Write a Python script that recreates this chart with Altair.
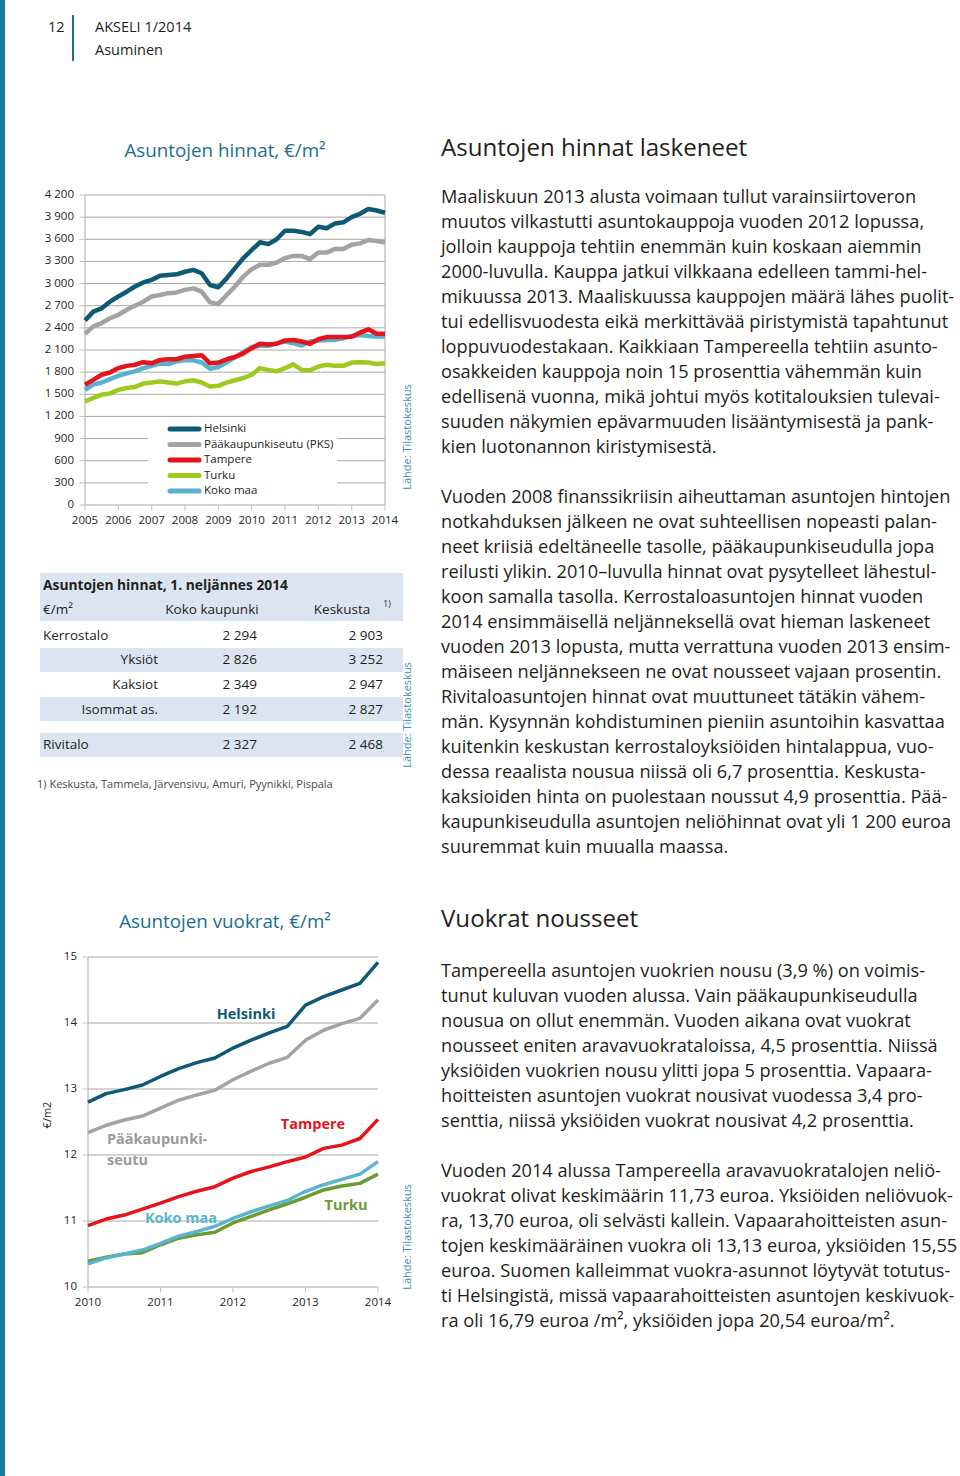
import altair as alt
import pandas as pd

# ---------------------------------------------------------------- data
price_series = ["Helsinki", "Pääkaupunkiseutu (PKS)", "Tampere", "Turku", "Koko maa"]
price_years = [2005, 2006, 2007, 2008, 2009, 2010, 2011, 2012, 2013, 2014]
price_ticks = [0, 300, 600, 900, 1200, 1500, 1800, 2100, 2400, 2700, 3000, 3300, 3600, 3900, 4200]
price_tick_labels = ["0", "300", "600", "900", "1 200", "1 500", "1 800", "2 100", "2 400",
                     "2 700", "3 000", "3 300", "3 600", "3 900", "4 200"]

helsinki_price = [2500, 2620, 2665, 2755, 2825, 2890, 2960, 3015, 3050, 3105, 3115, 3125, 3160,
                  3185, 3140, 2980, 2950, 3070, 3210, 3345, 3455, 3560, 3535, 3600, 3715, 3715,
                  3700, 3670, 3770, 3750, 3815, 3830, 3900, 3945, 4010, 3990, 3960]
pks_price = [2320, 2420, 2465, 2530, 2575, 2645, 2700, 2755, 2825, 2845, 2870, 2880, 2915, 2935,
             2890, 2745, 2725, 2845, 2960, 3095, 3195, 3255, 3255, 3285, 3345, 3375, 3375, 3330,
             3420, 3420, 3470, 3470, 3525, 3545, 3590, 3575, 3555]
tampere_price = [1630, 1695, 1765, 1795, 1855, 1885, 1900, 1935, 1920, 1965, 1975, 1975, 2010,
                 2020, 2030, 1920, 1930, 1975, 2005, 2055, 2125, 2185, 2175, 2185, 2230, 2235,
                 2215, 2185, 2245, 2275, 2275, 2275, 2280, 2335, 2380, 2320, 2320]
turku_price = [1405, 1450, 1495, 1510, 1560, 1585, 1600, 1645, 1660, 1675, 1660, 1645, 1675,
               1690, 1660, 1605, 1615, 1660, 1690, 1720, 1765, 1855, 1830, 1810, 1855, 1905,
               1830, 1825, 1875, 1900, 1885, 1885, 1930, 1935, 1930, 1910, 1920]
koko_price = [1560, 1630, 1660, 1705, 1750, 1785, 1810, 1855, 1885, 1915, 1910, 1945, 1965,
              1960, 1930, 1845, 1870, 1935, 2000, 2070, 2140, 2156, 2156, 2190, 2214, 2192,
              2160, 2214, 2228, 2237, 2237, 2259, 2291, 2304, 2291, 2282, 2282]

rent_series = ["Helsinki", "Pääkaupunkiseutu", "Tampere", "Turku", "Koko maa"]
rent_years = [2010, 2011, 2012, 2013, 2014]
rent_ticks = [10, 11, 12, 13, 14, 15]
helsinki_rent = [12.80, 12.93, 12.99, 13.06, 13.19, 13.31, 13.40, 13.47, 13.62, 13.74, 13.85,
                 13.95, 14.27, 14.40, 14.50, 14.60, 14.92]
pks_rent = [12.34, 12.45, 12.53, 12.59, 12.71, 12.83, 12.91, 12.98, 13.14, 13.27, 13.39, 13.48,
            13.74, 13.89, 13.99, 14.07, 14.35]
tampere_rent = [10.93, 11.03, 11.09, 11.18, 11.27, 11.37, 11.45, 11.52, 11.65, 11.75, 11.82,
                11.90, 11.97, 12.10, 12.15, 12.25, 12.54]
turku_rent = [10.39, 10.45, 10.50, 10.52, 10.64, 10.74, 10.79, 10.83, 10.97, 11.07, 11.17,
              11.26, 11.36, 11.47, 11.53, 11.57, 11.71]
koko_rent = [10.35, 10.44, 10.50, 10.56, 10.66, 10.77, 10.84, 10.92, 11.04, 11.14, 11.23,
             11.31, 11.45, 11.55, 11.63, 11.71, 11.90]

table_rows = ["Kerrostalo", "Yksiöt", "Kaksiot", "Isommat as.", "Rivitalo"]
table_koko = ["2 294", "2 826", "2 349", "2 192", "2 327"]
table_keskusta = ["2 903", "3 252", "2 947", "2 827", "2 468"]

para1 = [
    "Maaliskuun 2013 alusta voimaan tullut varainsiirtoveron",
    "muutos vilkastutti asuntokauppoja vuoden 2012 lopussa,",
    "jolloin kauppoja tehtiin enemmän kuin koskaan aiemmin",
    "2000-luvulla. Kauppa jatkui vilkkaana edelleen tammi-hel-",
    "mikuussa 2013. Maaliskuussa kauppojen määrä lähes puolit-",
    "tui edellisvuodesta eikä merkittävää piristymistä tapahtunut",
    "loppuvuodestakaan. Kaikkiaan Tampereella tehtiin asunto-",
    "osakkeiden kauppoja noin 15 prosenttia vähemmän kuin",
    "edellisenä vuonna, mikä johtui myös kotitalouksien tulevai-",
    "suuden näkymien epävarmuuden lisääntymisestä  ja pank-",
    "kien luotonannon kiristymisestä.",
]
para2 = [
    "Vuoden 2008 finanssikriisin aiheuttaman asuntojen hintojen",
    "notkahduksen jälkeen ne ovat  suhteellisen nopeasti palan-",
    "neet kriisiä edeltäneelle tasolle, pääkaupunkiseudulla jopa",
    "reilusti ylikin. 2010–luvulla hinnat ovat pysytelleet lähestul-",
    "koon samalla tasolla. Kerrostaloasuntojen hinnat vuoden",
    "2014 ensimmäisellä neljänneksellä ovat hieman laskeneet",
    "vuoden 2013 lopusta, mutta verrattuna vuoden 2013 ensim-",
    "mäiseen neljännekseen ne ovat nousseet vajaan prosentin.",
    "Rivitaloasuntojen hinnat ovat muuttuneet tätäkin vähem-",
    "män. Kysynnän kohdistuminen pieniin asuntoihin kasvattaa",
    "kuitenkin keskustan kerrostaloyksiöiden hintalappua, vuo-",
    "dessa reaalista nousua niissä oli 6,7 prosenttia.  Keskusta-",
    "kaksioiden hinta on puolestaan noussut 4,9 prosenttia. Pää-",
    "kaupunkiseudulla asuntojen neliöhinnat ovat yli 1 200 euroa",
    "suuremmat kuin muualla maassa.",
]
para3 = [
    "Tampereella asuntojen vuokrien nousu (3,9 %) on voimis-",
    "tunut kuluvan vuoden alussa. Vain pääkaupunkiseudulla",
    "nousua on ollut enemmän. Vuoden aikana ovat vuokrat",
    "nousseet eniten aravavuokrataloissa, 4,5 prosenttia. Niissä",
    "yksiöiden vuokrien nousu ylitti jopa 5 prosenttia. Vapaara-",
    "hoitteisten asuntojen vuokrat nousivat vuodessa 3,4 pro-",
    "senttia,  niissä yksiöiden vuokrat nousivat 4,2 prosenttia.",
]
para4 = [
    "Vuoden 2014 alussa Tampereella aravavuokratalojen neliö-",
    "vuokrat olivat keskimäärin 11,73 euroa. Yksiöiden neliövuok-",
    "ra, 13,70 euroa, oli selvästi kallein. Vapaarahoitteisten asun-",
    "tojen keskimääräinen vuokra oli 13,13 euroa, yksiöiden 15,55",
    "euroa. Suomen kalleimmat vuokra-asunnot löytyvät totutus-",
    "ti Helsingistä, missä vapaarahoitteisten asuntojen keskivuok-",
    "ra oli 16,79 euroa /m², yksiöiden jopa 20,54 euroa/m².",
]

# ---------------------------------------------------------------- style
FONT = "Open Sans"
INK = "#231f20"
TEAL = "#1b6f8d"
SOURCE = "#3a93a6"
GRID = "#a8a8a8"
BAND = "#dbe5f1"
STRIPE = "#157a9b"
price_colors = ["#0e5a75", "#a3a3a3", "#e5141c", "#9ccb1e", "#58b2cd"]
rent_colors = ["#0e5a75", "#a3a3a3", "#e5141c", "#6b9a35", "#5ab4cf"]
BODY = 18.2
LH = 25

DUMMY = pd.DataFrame({"_": [0]})


def label(text, x, y, size, color=INK, weight="normal", align="left", angle=None,
          baseline="middle", line_height=None):
    props = dict(text=text, font=FONT, fontSize=size, color=color, fontWeight=weight,
                 align=align, baseline=baseline)
    if angle is not None:
        props["angle"] = angle
    if line_height is not None:
        props["lineHeight"] = line_height
    return alt.Chart(DUMMY).mark_text(**props).encode(x=alt.value(x), y=alt.value(y))


def box(x1, x2, y1, y2, color):
    return alt.Chart(DUMMY).mark_rect(color=color).encode(
        x=alt.value(x1), x2=alt.value(x2), y=alt.value(y1), y2=alt.value(y2))


def paragraph(lines, x, y_first):
    return label(lines, x, y_first, BODY, line_height=LH)


# ---------------------------------------------------------------- price chart
q_price = [y + q / 4 for y in range(2005, 2014) for q in range(4)] + [2014.0]
price_values = dict(zip(price_series, [helsinki_price, pks_price, tampere_price,
                                       turku_price, koko_price]))
xs_p = alt.Scale(domain=[2005, 2014], range=[85, 385], nice=False, zero=False)
ys_p = alt.Scale(domain=[0, 4200], range=[505, 195], nice=False, zero=False)
cs_p = alt.Scale(domain=price_series, range=price_colors)

ptick_df = pd.DataFrame({"v": price_ticks, "label": price_tick_labels})
pyear_df = pd.DataFrame({"t": price_years, "label": [str(y) for y in price_years]})
pframe_df = pd.DataFrame({"t": [2005, 2014]})

p_grid = alt.Chart(ptick_df).mark_rule(color=GRID, strokeWidth=1).encode(
    y=alt.Y("v:Q", scale=ys_p, axis=None),
    x=alt.XDatum(2005, scale=xs_p, axis=None), x2=alt.X2Datum(2014))
p_frame = alt.Chart(pframe_df).mark_rule(color=GRID, strokeWidth=1).encode(
    x=alt.X("t:Q", scale=xs_p, axis=None),
    y=alt.YDatum(0, scale=ys_p, axis=None), y2=alt.Y2Datum(4200))
p_ytick = alt.Chart(ptick_df).mark_tick(orient="horizontal", size=5, thickness=1,
                                        color=GRID, xOffset=-3).encode(
    y=alt.Y("v:Q", scale=ys_p, axis=None), x=alt.XDatum(2005, scale=xs_p, axis=None))
p_xtick = alt.Chart(pyear_df).mark_tick(orient="vertical", size=5, thickness=1,
                                        color=GRID, yOffset=3).encode(
    x=alt.X("t:Q", scale=xs_p, axis=None), y=alt.YDatum(0, scale=ys_p, axis=None))
p_ylab = alt.Chart(ptick_df).mark_text(align="right", dx=-11, font=FONT, fontSize=11.5,
                                       color=INK).encode(
    y=alt.Y("v:Q", scale=ys_p, axis=None), x=alt.XDatum(2005, scale=xs_p, axis=None),
    text="label:N")
p_xlab = alt.Chart(pyear_df).mark_text(dy=16, font=FONT, fontSize=11.5, color=INK).encode(
    x=alt.X("t:Q", scale=xs_p, axis=None), y=alt.YDatum(0, scale=ys_p, axis=None),
    text="label:N")

p_lines = []
for s in ["Turku", "Koko maa", "Tampere", "Pääkaupunkiseutu (PKS)", "Helsinki"]:
    df = pd.DataFrame({"t": q_price, "v": price_values[s], "series": s})
    p_lines.append(alt.Chart(df).mark_line(strokeWidth=4.5, strokeJoin="round").encode(
        x=alt.X("t:Q", scale=xs_p, axis=None), y=alt.Y("v:Q", scale=ys_p, axis=None),
        color=alt.Color("series:N", scale=cs_p, legend=None)))

price_chart = alt.layer(p_grid, p_frame, p_ytick, p_xtick, p_ylab, p_xlab, *p_lines)

# legend drawn inside the plot
leg_df = pd.DataFrame({"series": price_series})
leg_y = alt.Scale(type="point", domain=price_series, range=[429, 491], padding=0)
leg_bg = box(148, 337, 418, 501, "white")
leg_sym = alt.Chart(leg_df).mark_rule(strokeWidth=5, strokeCap="round").encode(
    y=alt.Y("series:N", scale=leg_y, axis=None), x=alt.value(170), x2=alt.value(199),
    color=alt.Color("series:N", scale=cs_p, legend=None))
leg_txt = alt.Chart(leg_df).mark_text(align="left", font=FONT, fontSize=11.5,
                                      color=INK).encode(
    y=alt.Y("series:N", scale=leg_y, axis=None), x=alt.value(204), text="series:N")
legend = alt.layer(leg_bg, leg_sym, leg_txt)

# ---------------------------------------------------------------- rent chart
q_rent = [y + q / 4 for y in range(2010, 2014) for q in range(4)] + [2014.0]
rent_values = dict(zip(rent_series, [helsinki_rent, pks_rent, tampere_rent,
                                     turku_rent, koko_rent]))
xs_r = alt.Scale(domain=[2010, 2014], range=[88, 378], nice=False, zero=False)
ys_r = alt.Scale(domain=[10, 15], range=[1287, 957], nice=False, zero=False)
cs_r = alt.Scale(domain=rent_series, range=rent_colors)

rtick_df = pd.DataFrame({"v": rent_ticks, "label": [str(v) for v in rent_ticks]})
ryear_df = pd.DataFrame({"t": rent_years, "label": [str(y) for y in rent_years]})

r_grid = alt.Chart(rtick_df).mark_rule(color=GRID, strokeWidth=1).encode(
    y=alt.Y("v:Q", scale=ys_r, axis=None),
    x=alt.XDatum(2010, scale=xs_r, axis=None), x2=alt.X2Datum(2014))
r_frame = alt.Chart(DUMMY).mark_rule(color=GRID, strokeWidth=1).encode(
    x=alt.XDatum(2010, scale=xs_r, axis=None),
    y=alt.YDatum(10, scale=ys_r, axis=None), y2=alt.Y2Datum(15))
r_ytick = alt.Chart(rtick_df).mark_tick(orient="horizontal", size=5, thickness=1,
                                        color=GRID, xOffset=-3).encode(
    y=alt.Y("v:Q", scale=ys_r, axis=None), x=alt.XDatum(2010, scale=xs_r, axis=None))
r_xtick = alt.Chart(ryear_df).mark_tick(orient="vertical", size=5, thickness=1,
                                        color=GRID, yOffset=3).encode(
    x=alt.X("t:Q", scale=xs_r, axis=None), y=alt.YDatum(10, scale=ys_r, axis=None))
r_ylab = alt.Chart(rtick_df).mark_text(align="right", dx=-11, font=FONT, fontSize=11.5,
                                       color=INK).encode(
    y=alt.Y("v:Q", scale=ys_r, axis=None), x=alt.XDatum(2010, scale=xs_r, axis=None),
    text="label:N")
r_xlab = alt.Chart(ryear_df).mark_text(dy=16, font=FONT, fontSize=11.5, color=INK).encode(
    x=alt.X("t:Q", scale=xs_r, axis=None), y=alt.YDatum(10, scale=ys_r, axis=None),
    text="label:N")

r_lines = []
for s in ["Turku", "Koko maa", "Tampere", "Pääkaupunkiseutu", "Helsinki"]:
    df = pd.DataFrame({"t": q_rent, "v": rent_values[s], "series": s})
    r_lines.append(alt.Chart(df).mark_line(strokeWidth=3.5, strokeJoin="round").encode(
        x=alt.X("t:Q", scale=xs_r, axis=None), y=alt.Y("v:Q", scale=ys_r, axis=None),
        color=alt.Color("series:N", scale=cs_r, legend=None)))

rent_chart = alt.layer(r_grid, r_frame, r_ytick, r_xtick, r_ylab, r_xlab, *r_lines)

rent_labels = [
    label("Helsinki", 246, 1015, 14.5, rent_colors[0], "bold", "center"),
    label(["Pääkaupunki-", "seutu"], 107, 1140, 14.5, "#9a9a9a", "bold", "left",
          line_height=21),
    label("Tampere", 313, 1125, 14.5, rent_colors[2], "bold", "center"),
    label("Turku", 346, 1206, 14.5, rent_colors[3], "bold", "center"),
    label("Koko maa", 181, 1219, 14.5, rent_colors[4], "bold", "center"),
    label("€/m2", 48, 1115, 11, INK, angle=270, align="center"),
]

# ---------------------------------------------------------------- table
row_y = [636, 660, 685, 710, 745]
row_x = [43, 158, 158, 158, 43]
row_align = ["left", "right", "right", "right", "left"]
table = [
    box(40, 403, 573, 621, BAND),
    box(40, 403, 648, 672, BAND),
    box(40, 403, 697, 721, BAND),
    box(40, 403, 733, 757, BAND),
    label("Asuntojen hinnat, 1. neljännes 2014", 43, 586, 13.8, weight="bold"),
    label("€/m²", 43, 610, 13.5),
    label("Koko kaupunki", 212, 610, 13.5, align="center"),
    label("Keskusta", 342, 610, 13.5, align="center"),
    label("1)", 387, 604, 8.5, align="center"),
    label("1) Keskusta, Tammela, Järvensivu, Amuri, Pyynikki, Pispala", 37, 785, 11,
          color="#4a4a4a"),
]
for i, name in enumerate(table_rows):
    table.append(label(name, row_x[i], row_y[i], 13.5, align=row_align[i]))
    table.append(label(table_koko[i], 257, row_y[i], 13.5, align="right"))
    table.append(label(table_keskusta[i], 383, row_y[i], 13.5, align="right"))

# ---------------------------------------------------------------- page text
page_text = [
    box(0, 5, 0, 1476, STRIPE),
    label("12", 48, 28, 14.5),
    alt.Chart(DUMMY).mark_rule(color=TEAL, strokeWidth=2).encode(
        x=alt.value(73), y=alt.value(15), y2=alt.value(61)),
    label("AKSELI 1/2014", 95, 28, 14.5),
    label("Asuminen", 95, 51, 14.5),
    label("Asuntojen hinnat, €/m²", 225, 151, 18.8, TEAL, align="center"),
    label("Asuntojen vuokrat, €/m²", 225, 922, 18.8, TEAL, align="center"),
    label("Lähde: Tilastokeskus", 408, 437, 11, SOURCE, angle=270, align="center"),
    label("Lähde: Tilastokeskus", 408, 715, 11, SOURCE, angle=270, align="center"),
    label("Lähde: Tilastokeskus", 408, 1237, 11, SOURCE, angle=270, align="center"),
    label("Asuntojen hinnat laskeneet", 441, 149, 24.1),
    label("Vuokrat nousseet", 441, 920, 24.1),
    paragraph(para1, 441, 198),
    paragraph(para2, 441, 498),
    paragraph(para3, 441, 972),
    paragraph(para4, 441, 1172),
]

chart = alt.layer(
    *page_text[:1], price_chart, legend, *table, rent_chart, *rent_labels, *page_text[1:]
).resolve_scale(
    x="independent", y="independent", color="independent"
).properties(
    width=960, height=1476, padding=0, background="white",
    autosize=alt.AutoSizeParams(type="none"),
).configure_view(stroke=None)

chart.save("out.html", embed_options={"renderer": "svg", "actions": False})
